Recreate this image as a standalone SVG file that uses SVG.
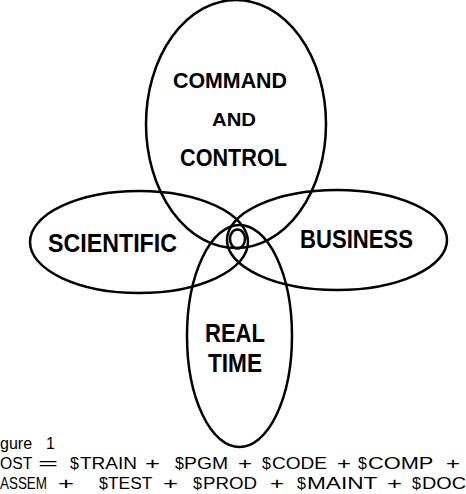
<svg xmlns="http://www.w3.org/2000/svg" width="466" height="494" viewBox="0 0 466 494">
<style>
.ring{fill:none;stroke:#000;stroke-width:2.5}
.lbl{font-family:"Liberation Sans",Arial,sans-serif;font-weight:bold;fill:#000;text-anchor:start}
.cap{font-family:"Liberation Sans",Arial,sans-serif;font-size:16px;fill:#000}
</style>
<rect width="466" height="494" fill="#fff"/>
<g id="command-control">
<ellipse class="ring" cx="236" cy="124" rx="90" ry="124"/>
<text class="lbl" x="173" y="88" font-size="22" textLength="114" lengthAdjust="spacingAndGlyphs">COMMAND</text>
<text class="lbl" x="212" y="126" font-size="19" textLength="44" lengthAdjust="spacingAndGlyphs">AND</text>
<text class="lbl" x="180" y="166" font-size="24" textLength="107" lengthAdjust="spacingAndGlyphs">CONTROL</text>
</g>
<g id="scientific">
<ellipse class="ring" cx="139" cy="242" rx="109" ry="51"/>
<text class="lbl" x="48" y="252" font-size="25" textLength="129" lengthAdjust="spacingAndGlyphs">SCIENTIFIC</text>
</g>
<g id="business">
<ellipse class="ring" cx="337" cy="240" rx="110" ry="50"/>
<text class="lbl" x="300" y="248" font-size="25" textLength="113" lengthAdjust="spacingAndGlyphs">BUSINESS</text>
</g>
<g id="real-time">
<ellipse class="ring" cx="239.5" cy="336" rx="52.5" ry="111"/>
<text class="lbl" x="205" y="342" font-size="25" textLength="60" lengthAdjust="spacingAndGlyphs">REAL</text>
<text class="lbl" x="208" y="372" font-size="25" textLength="54" lengthAdjust="spacingAndGlyphs">TIME</text>
</g>
<g id="common-core">
<ellipse class="ring" cx="237.5" cy="239" rx="7.5" ry="9.5"/>
</g>
<g id="connectors"></g>
<g id="caption">
<text class="cap" x="0" y="449">gure <tspan x="46">1</tspan></text>
<text class="cap" y="469"><tspan x="0" textLength="32" lengthAdjust="spacingAndGlyphs">OST</tspan> <tspan x="38" textLength="20" lengthAdjust="spacingAndGlyphs">=</tspan> <tspan x="70">$</tspan> <tspan x="80" textLength="57" lengthAdjust="spacingAndGlyphs">TRAIN</tspan> <tspan x="145" textLength="15" lengthAdjust="spacingAndGlyphs">+</tspan> <tspan x="175">$</tspan> <tspan x="184" textLength="44" lengthAdjust="spacingAndGlyphs">PGM</tspan> <tspan x="238" textLength="14" lengthAdjust="spacingAndGlyphs">+</tspan> <tspan x="262">$</tspan> <tspan x="272" textLength="55" lengthAdjust="spacingAndGlyphs">CODE</tspan> <tspan x="337" textLength="14" lengthAdjust="spacingAndGlyphs">+</tspan> <tspan x="358">$</tspan> <tspan x="368" textLength="65" lengthAdjust="spacingAndGlyphs">COMP</tspan> <tspan x="446" textLength="14" lengthAdjust="spacingAndGlyphs">+</tspan></text>
<text class="cap" y="489"><tspan x="0" textLength="47" lengthAdjust="spacingAndGlyphs">ASSEM</tspan> <tspan x="58" textLength="16" lengthAdjust="spacingAndGlyphs">+</tspan> <tspan x="99">$</tspan> <tspan x="108" textLength="44" lengthAdjust="spacingAndGlyphs">TEST</tspan> <tspan x="163" textLength="15" lengthAdjust="spacingAndGlyphs">+</tspan> <tspan x="193">$</tspan> <tspan x="203" textLength="54" lengthAdjust="spacingAndGlyphs">PROD</tspan> <tspan x="270" textLength="14" lengthAdjust="spacingAndGlyphs">+</tspan> <tspan x="297">$</tspan> <tspan x="307" textLength="70" lengthAdjust="spacingAndGlyphs">MAINT</tspan> <tspan x="387" textLength="15" lengthAdjust="spacingAndGlyphs">+</tspan> <tspan x="412">$</tspan> <tspan x="422" textLength="44" lengthAdjust="spacingAndGlyphs">DOC</tspan></text>
</g>
</svg>
